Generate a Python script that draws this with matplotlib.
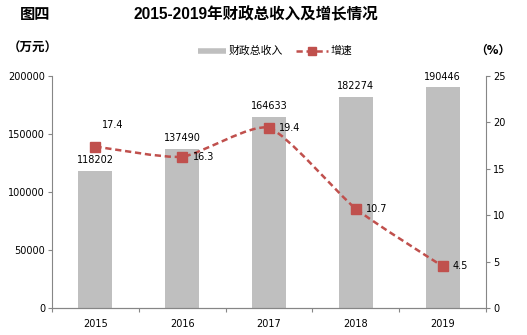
import numpy as np
import matplotlib.pyplot as plt
from matplotlib.lines import Line2D
from matplotlib.path import Path
from matplotlib.patches import PathPatch

plt.rcParams['font.family'] = ['DejaVu Sans', 'Noto Sans CJK SC']

years = ['2015', '2016', '2017', '2018', '2019']
revenue = [118202, 137490, 164633, 182274, 190446]
growth = [17.4, 16.3, 19.4, 10.7, 4.5]

bar_color = '#bfbfbf'
line_color = '#c0504d'
axis_color = '#868686'
fs = 7

W, H = 527, 335
fig = plt.figure(figsize=(W / 100, H / 100), dpi=100)
ax = fig.add_axes([52 / W, (H - 308) / H, 434 / W, 232 / H])
ax2 = ax.twinx()

x = np.arange(len(years))
ax.bar(x, revenue, width=0.39, color=bar_color, zorder=2)
ax.set_xlim(-0.5, len(years) - 0.5)
ax.set_ylim(0, 200000)
ax.set_yticks(np.arange(0, 200001, 50000))
ax2.set_ylim(0, 25)
ax2.set_yticks(np.arange(0, 26, 5))

for a in [ax, ax2]:
    a.spines['top'].set_visible(False)
    for s in ['left', 'right', 'bottom']:
        a.spines[s].set_color(axis_color)
        a.spines[s].set_linewidth(0.8)
    a.tick_params(axis='y', labelsize=fs, colors=axis_color, labelcolor='black', length=3, width=0.8, pad=2)
ax.spines['right'].set_visible(False)
ax2.spines['left'].set_visible(False)

# x ticks at category borders, labels centered
ax.set_xticks(np.arange(-0.5, len(years), 1))
ax.set_xticklabels([])
ax.tick_params(axis='x', length=3, width=0.8, colors=axis_color)
ax.set_xticks(x, minor=True)
ax.set_xticklabels(years, minor=True, fontsize=fs)
ax.tick_params(axis='x', which='minor', length=0, pad=8, labelcolor='black')

# smoothed growth line (mild cardinal spline via bezier curves)
pts = np.column_stack([x, growth]).astype(float)
verts = [tuple(pts[0])]
codes = [Path.MOVETO]
t = 0.1
for i in range(len(pts) - 1):
    p0 = pts[i - 1] if i > 0 else pts[i]
    p1, p2 = pts[i], pts[i + 1]
    p3 = pts[i + 2] if i + 2 < len(pts) else pts[i + 1]
    c1 = p1 + (p2 - p0) * t
    c2 = p2 - (p3 - p1) * t
    verts += [tuple(c1), tuple(c2), tuple(p2)]
    codes += [Path.CURVE4] * 3
dash = (0, (2.5, 1.5))
ax2.add_patch(PathPatch(Path(verts, codes), fill=False, edgecolor=line_color,
                        lw=1.8, ls=dash, zorder=3))
ax2.plot(x, growth, ls='none', marker='s', ms=7, color=line_color, zorder=4)

for xi, v in zip(x, revenue):
    ax.annotate(str(v), (xi, v), xytext=(0, 4), textcoords='offset points',
                ha='center', va='bottom', fontsize=fs)
for i, (xi, v) in enumerate(zip(x, growth)):
    if i == 0:
        ax2.annotate(f'{v}', (xi, v), xytext=(4.5, 12), textcoords='offset points',
                     ha='left', va='bottom', fontsize=fs)
    else:
        ax2.annotate(f'{v}', (xi, v), xytext=(7.5, 0), textcoords='offset points',
                     ha='left', va='center', fontsize=fs)

fig.text(35 / W, 1 - 15 / H, '图四', ha='center', va='center', fontsize=11, weight='bold')
fig.text(256 / W, 1 - 15 / H, '2015-2019年财政总收入及增长情况', ha='center', va='center',
         fontsize=11.2, weight='bold', family=['Liberation Sans', 'Noto Sans CJK SC'])
fig.text(33 / W, 1 - 48 / H, '（万元）', ha='center', va='center', fontsize=9, weight='bold')
fig.text(493 / W, 1 - 50 / H, '（%）', ha='center', va='center', fontsize=8.5, weight='bold')

# legend drawn by hand in figure coordinates
ly = 1 - 51 / H
fig.add_artist(Line2D([198 / W, 226 / W], [ly, ly], color=bar_color, lw=4, solid_capstyle='butt'))
fig.text(229 / W, ly, '财政总收入', ha='left', va='center', fontsize=7.8)
fig.add_artist(Line2D([296 / W, 328 / W], [ly, ly], color=line_color, lw=1.8, ls=dash,
                      dash_capstyle='butt'))
fig.add_artist(Line2D([312 / W], [ly], color=line_color, marker='s', ms=6, ls='none'))
fig.text(331 / W, ly, '增速', ha='left', va='center', fontsize=7.8)

fig.savefig('out.png', dpi=100)
